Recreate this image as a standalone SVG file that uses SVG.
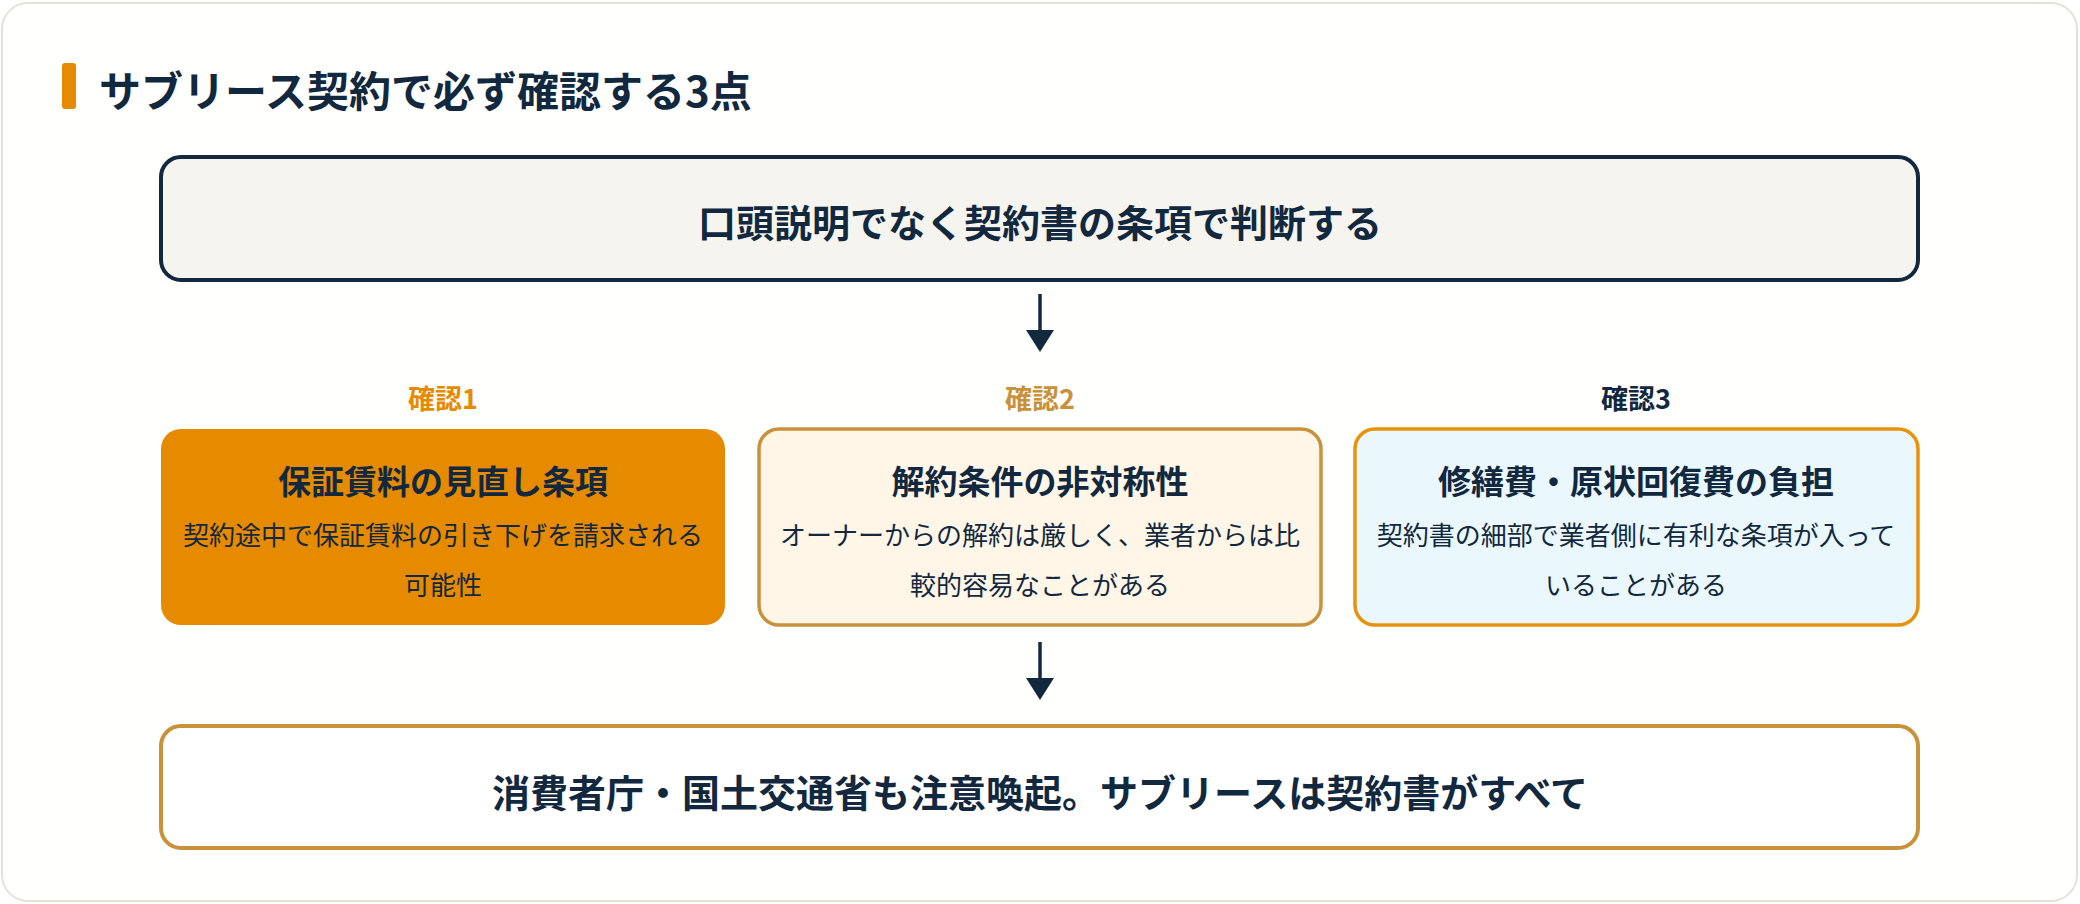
<svg xmlns="http://www.w3.org/2000/svg" width="2080" height="904" viewBox="0 0 2080 904">
<defs>
<style>
.t{font-family:"Noto Sans CJK JP","Noto Sans",sans-serif;fill:#12283f;text-anchor:middle;dominant-baseline:central}
.b{font-weight:700}
.big{font-size:38px}
.hd{font-size:33px}
.bd{font-size:26px;font-weight:400}
.lb{font-size:27px;font-weight:700}
.con{stroke:#12283f;stroke-width:3.5;fill:none}
.head{fill:#12283f}
</style>
</defs>
<rect x="0" y="0" width="2080" height="904" fill="#ffffff"/>
<rect x="2" y="3" width="2075" height="898" rx="26" fill="#fffffe" stroke="#e4e2d7" stroke-width="2"/>
<g id="title">
<rect x="62" y="63" width="14" height="46" rx="3" fill="#e68a00"/>
<text class="t b" x="99" y="88" style="font-size:42px;text-anchor:start">サブリース契約で必ず確認する3点</text>
</g>
<g id="top">
<rect x="161" y="157" width="1757" height="123" rx="20" fill="#f5f4ef" stroke="#12283f" stroke-width="4"/>
<text class="t b big" x="1040" y="220">口頭説明でなく契約書の条項で判断する</text>
</g>
<g id="connectors">
<line class="con" x1="1040" y1="294" x2="1040" y2="334"/>
<path class="head" d="M1026,330 L1054,330 L1040,352 Z"/>
<line class="con" x1="1040" y1="642" x2="1040" y2="682"/>
<path class="head" d="M1026,678 L1054,678 L1040,700 Z"/>
</g>
<g id="check1">
<text class="t lb" x="443" y="397" style="fill:#e68a00">確認1</text>
<rect x="161" y="429" width="564" height="196" rx="20" fill="#e68a00"/>
<text class="t b hd" x="443" y="480">保証賃料の見直し条項</text>
<text class="t bd" x="443" y="533">契約途中で保証賃料の引き下げを請求される</text>
<text class="t bd" x="443" y="583">可能性</text>
</g>
<g id="check2">
<text class="t lb" x="1040" y="397" style="fill:#c8913a">確認2</text>
<rect x="759" y="429" width="562" height="196" rx="20" fill="#fff6e8" stroke="#c8913a" stroke-width="3.5"/>
<text class="t b hd" x="1040" y="480">解約条件の非対称性</text>
<text class="t bd" x="1040" y="533">オーナーからの解約は厳しく、業者からは比</text>
<text class="t bd" x="1040" y="583">較的容易なことがある</text>
</g>
<g id="check3">
<text class="t lb" x="1636" y="397">確認3</text>
<rect x="1355" y="429" width="563" height="196" rx="20" fill="#eaf8fe" stroke="#e8920c" stroke-width="3.5"/>
<text class="t b hd" x="1636" y="480">修繕費・原状回復費の負担</text>
<text class="t bd" x="1636" y="533">契約書の細部で業者側に有利な条項が入って</text>
<text class="t bd" x="1636" y="583">いることがある</text>
</g>
<g id="bottom">
<rect x="161" y="726" width="1757" height="122" rx="20" fill="#ffffff" stroke="#c8913a" stroke-width="4"/>
<text class="t b big" x="1040" y="790">消費者庁・国土交通省も注意喚起。サブリースは契約書がすべて</text>
</g>
</svg>
